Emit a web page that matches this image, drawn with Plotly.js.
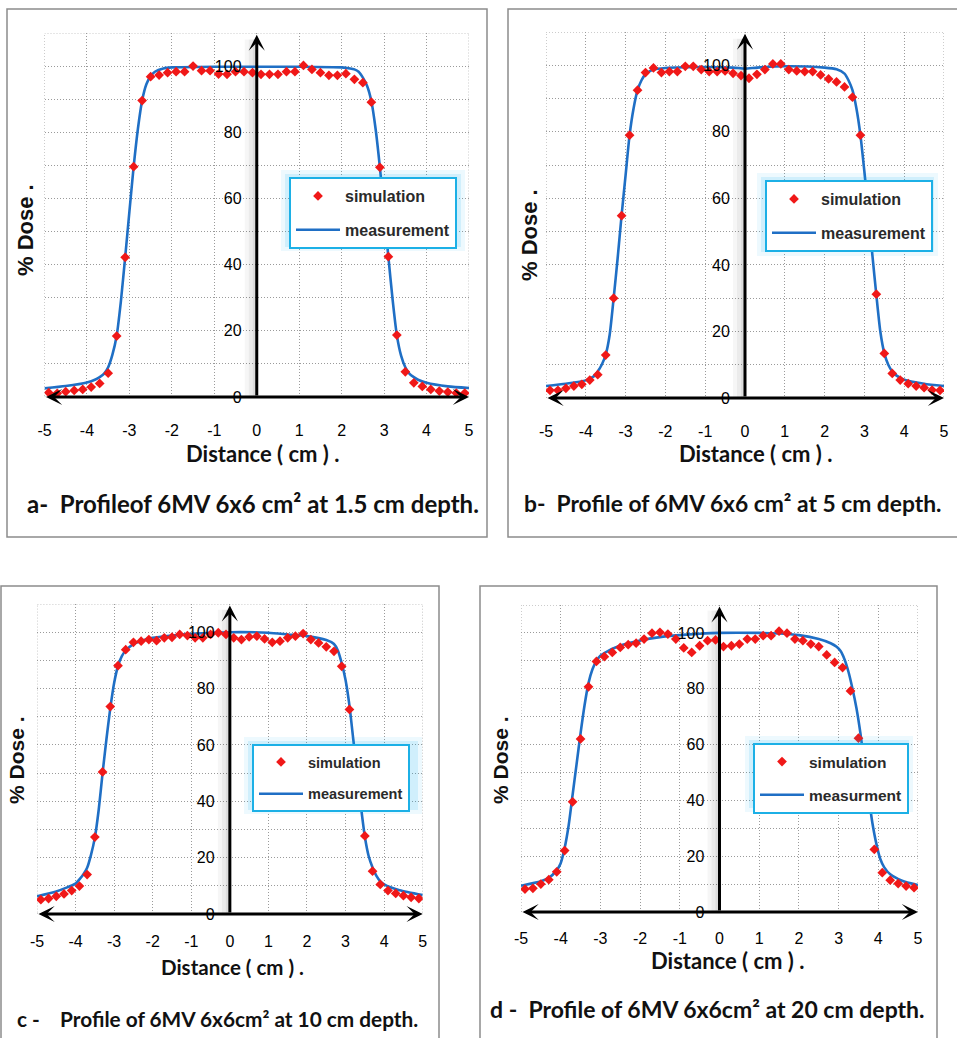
<!DOCTYPE html>
<html><head><meta charset="utf-8">
<script src="https://cdn.plot.ly/plotly-3.0.1.min.js"></script>
<style>html,body{margin:0;padding:0;background:#fff;}#chart{width:957px;height:1038px;}</style>
</head><body><div id="chart"></div>
<script>
// ---------------- data ----------------
const simX = [-4.9,-4.7,-4.5,-4.3,-4.1,-3.9,-3.7,-3.5,-3.3,-3.1,-2.9,-2.7,-2.5,-2.3,-2.1,-1.9,-1.7,-1.5,-1.3,-1.1,-0.9,-0.7,-0.5,-0.3,-0.1,
              0.1,0.3,0.5,0.7,0.9,1.1,1.3,1.5,1.7,1.9,2.1,2.3,2.5,2.7,2.9,3.1,3.3,3.5,3.7,3.9,4.1,4.3,4.5,4.7,4.9];

const simA = [1.3,1.1,1.6,2.0,2.3,3.0,4.1,7.2,18.4,42.2,69.6,89.6,96.8,97.3,98.0,98.3,98.3,100.0,98.6,98.6,97.6,97.5,98.3,98.3,98.0,
              97.5,97.5,97.5,98.3,98.3,100.2,99.0,98.0,97.2,97.2,97.7,96.0,95.0,89.1,69.4,42.4,18.7,7.6,4.3,3.2,2.3,1.8,1.5,1.2,1.2];
const simB = [2.3,2.3,2.9,3.6,4.1,5.4,7.0,12.9,30.0,54.8,79.0,92.5,97.8,99.2,97.8,98.1,98.1,99.7,99.7,98.7,98.1,98.1,98.3,97.6,96.9,
              96.1,97.3,98.7,100.4,100.4,98.7,98.3,98.1,98.1,97.1,95.9,95.0,93.5,90.4,79.0,55.0,31.2,13.4,7.4,5.4,4.3,3.6,3.1,2.4,2.3];
const simC = [5.1,5.5,6.3,7.1,8.3,9.9,14.0,27.3,50.4,73.6,88.1,93.8,96.4,96.8,97.4,97.0,98.0,98.2,99.2,98.8,98.0,98.0,99.2,99.8,99.2,
              98.0,97.4,98.3,98.6,97.6,96.4,96.8,98.0,98.6,99.5,97.4,96.2,94.8,93.2,87.9,72.6,50.0,27.7,15.2,10.5,8.3,7.3,6.5,5.9,5.5];
const simD = [8.2,8.5,10.0,11.6,14.4,22.0,39.5,62.0,80.7,89.8,91.5,93.0,94.8,95.8,96.3,97.8,99.9,100.2,99.6,97.8,94.6,93.0,95.4,97.2,97.5,
              95.1,95.4,96.0,97.8,97.8,99.0,99.0,100.6,99.9,97.8,97.2,96.0,95.1,92.1,89.4,87.6,79.2,62.3,39.5,22.4,14.1,11.4,10.2,9.3,8.7];

const measAX = [-5,-4.5,-4,-3.8,-3.7,-3.6,-3.5,-3.4,-3.3,-3.2,-3.1,-3,-2.9,-2.8,-2.7,-2.6,-2.5,-2.4,-2.2,-2,-1,0,1,2,2.2,2.3,2.4,2.5,2.6,2.7,2.8,2.9,3,3.1,3.2,3.3,3.4,3.5,3.6,3.7,3.8,4,4.5,5];
const measAY = [2.6,3.3,4.4,5.3,6.0,7.0,9.0,12.8,18.5,29,42.2,56,69.6,81,89.6,94.5,97,98.3,99.3,99.6,99.8,99.8,99.8,99.6,99.3,99,98.3,96.5,94,89.4,81,69.5,56,42.4,29.5,18.7,12.5,9,7,6,5.2,4.3,3.2,2.7];

const measBX = [-5,-4.5,-4,-3.8,-3.7,-3.6,-3.5,-3.4,-3.3,-3.2,-3.1,-3,-2.9,-2.8,-2.7,-2.6,-2.5,-2.3,-2,-1,-0.3,0,0.3,1,2,2.3,2.5,2.6,2.7,2.8,2.9,3,3.1,3.2,3.3,3.4,3.5,3.6,3.7,3.8,4,4.5,5];
const measBY = [3.6,4.3,5.3,6.5,8,10,13,19,30,42,55,67,79,87,92.5,95.5,97.3,98.7,99.2,99.5,99.3,99,99.3,99.7,99.3,98.8,97.5,95.5,92.5,87,79,68,56,43,31,20,13.5,10,8,6.8,5.5,4.3,3.6];

const measCX = [-5,-4.5,-4,-3.9,-3.8,-3.7,-3.6,-3.5,-3.4,-3.3,-3.2,-3.1,-3,-2.9,-2.8,-2.7,-2.5,-2.2,-2,-1.5,-1,0,1,1.5,2,2.5,2.7,2.8,2.9,3,3.1,3.2,3.3,3.4,3.5,3.6,3.7,3.8,3.9,4,4.4,5];
const measCY = [6.3,8.0,10.8,12.3,14,16.4,21,27.1,37,50,62,73,82,88,91.5,93.5,95.8,97.3,98,98.8,99.4,100,99.8,99.2,98.6,97.2,95.8,93.5,89,83,74,62,50,38,27.4,20.5,16.5,13.5,11.6,10.5,8.4,6.7];

const measDX = [-5,-4.5,-4.3,-4.1,-4,-3.9,-3.8,-3.7,-3.6,-3.5,-3.4,-3.3,-3.2,-3.1,-3,-2.9,-2.5,-2,-1.5,-1,-0.5,0,1,1.5,2,2.5,2.8,2.95,3.05,3.15,3.25,3.35,3.45,3.55,3.65,3.75,3.85,3.95,4.05,4.15,4.3,4.6,5];
const measDY = [9.4,11,12.2,15,17.5,23,31,42,53,64,74,82,87,90,91.8,92.8,95.5,97.3,98.5,99.2,99.7,100,100,99.8,99.2,97.8,96.3,95,93.5,90.5,86,80,73,64,53,42,32,24.5,19,16,13.5,11.2,9.6];

const xTickVals = [-5,-4,-3,-2,-1,0,1,2,3,4,5];
const xTickText = ['-5','-4','-3','-2','-1','0','1','2','3','4','5'];
const yTickVals = [0,10,20,30,40,50,60,70,80,90,100,110];
const yTickText = ['0','','20','','40','','60','','80','','100',''];

const simNames  = ['simulation','simulation','simulation','simulation'];
const measNames = ['measurement','measurement','measurement','measurment'];
const captions = [
  'a-  Profileof 6MV 6x6 cm\u00b2 at 1.5 cm depth.',
  'b-  Profile of 6MV 6x6 cm\u00b2 at 5 cm depth.',
  'c -    Profile of 6MV 6x6cm\u00b2 at 10 cm depth.',
  'd -  Profile of 6MV 6x6cm\u00b2 at 20 cm depth.'
];
const xTitle = 'Distance ( cm ) .';
const yTitle = '% Dose .';

// ---------------- layout geometry (pixels) ----------------
const W = 957, H = 1038;
const geo = [
  {xl:44.5, xr:469, yb:397, yt:33,  frame:[7,9,487,537],    cap:[253,503],  capSize:24,   xt:[262,453], xtSize:22, yl:[25,230],  ylSize:22, tl:19, leg:[289,177], legSize:[168,64], legFont:16},
  {xl:546,  xr:944, yb:398, yt:32,  frame:[508,9,962,537],  cap:[732,503],  capSize:22.8, xt:[755,453], xtSize:22, yl:[530,235], ylSize:22, tl:19, leg:[765,180], legSize:[165,66], legFont:16},
  {xl:37,   xr:422.7,yb:914,yt:604, frame:[1,586,439,1042], cap:[217,1018], capSize:20.8, xt:[232,967], xtSize:20.5, yl:[16,760],  ylSize:21, tl:13, leg:[252,744], legSize:[162,60], legFont:14.5},
  {xl:521,  xr:918, yb:912, yt:605, frame:[480,586,937,1042],cap:[707,1009], capSize:23,   xt:[727,960], xtSize:22, yl:[500,760], ylSize:21, tl:12, leg:[753,743], legSize:[152,59], legFont:15.5}
];
const simSets  = [simA, simB, simC, simD];
const measSets = [[measAX,measAY],[measBX,measBY],[measCX,measCY],[measDX,measDY]];

const px = x => x / W;
const py = y => 1 - y / H;
const sfx = i => (i === 0 ? '' : String(i + 1));

const traces = [];
const layout = {
  width: W, height: H, margin: {l:0, r:0, t:0, b:0},
  paper_bgcolor: '#ffffff', plot_bgcolor: '#ffffff',
  showlegend: true, annotations: [], shapes: []
};
const tickFont = {family: 'Liberation Sans, Arial, sans-serif', size: 16, color: '#000'};
const gridColor = '#9a9a9a';

geo.forEach((g, i) => {
  const s = sfx(i);
  const xa = 'x' + s, ya = 'y' + s;
  const legId = 'legend' + s;
  const titleFont = sz => ({family: 'Lato, Liberation Sans, sans-serif', size: sz, color: '#111', weight: 700});

  traces.push({
    type: 'scatter', mode: 'lines', x: measSets[i][0], y: measSets[i][1],
    xaxis: xa, yaxis: ya, name: measNames[i], legend: legId, legendgroup: 'm' + i, legendrank: 2,
    line: {color: '#1f6fc5', width: 2.6, shape: 'spline', smoothing: 0.6}, hoverinfo: 'skip'
  });
  traces.push({
    type: 'scatter', mode: 'markers', x: simX, y: simSets[i],
    xaxis: xa, yaxis: ya, name: simNames[i], legend: legId, legendgroup: 's' + i, legendrank: 1,
    marker: {symbol: 'diamond', size: 7.5, color: '#f01818'}, hoverinfo: 'skip'
  });

  layout['xaxis' + s] = {
    domain: [px(g.xl), px(g.xr)], range: [-5, 5], anchor: ya,
    tickmode: 'array', tickvals: xTickVals, ticktext: xTickText,
    ticks: 'outside', ticklen: g.tl, tickcolor: 'rgba(0,0,0,0)', tickfont: tickFont,
    showgrid: true, gridcolor: gridColor, gridwidth: 1, griddash: '1px,2px',
    zeroline: false, showline: false, fixedrange: true
  };
  layout['yaxis' + s] = {
    domain: [py(g.yb), py(g.yt)], range: [0, 110], anchor: 'free',
    position: px((g.xl + g.xr) / 2),
    tickmode: 'array', tickvals: yTickVals, ticktext: yTickText,
    ticks: 'outside', ticklen: 12, tickcolor: 'rgba(0,0,0,0)', tickfont: tickFont,
    showgrid: true, gridcolor: gridColor, gridwidth: 1, griddash: '1px,2px',
    zeroline: false, showline: false, fixedrange: true
  };

  layout[legId] = {
    x: px(g.leg[0]), y: py(g.leg[1]), xanchor: 'left', yanchor: 'top',
    bgcolor: '#ffffff', bordercolor: '#1cb0e6', borderwidth: 2,
    font: {family: 'Liberation Sans, Arial, sans-serif', size: g.legFont, color: '#2a2a2a', weight: 700},
    tracegroupgap: 10, itemwidth: 44, traceorder: 'grouped'
  };

  // panel frame
  layout.shapes.push({type: 'rect', xref: 'paper', yref: 'paper',
    x0: px(g.frame[0]), x1: px(g.frame[2]), y0: py(g.frame[3]), y1: py(g.frame[1]),
    line: {color: '#8c8c8c', width: 1.5}, fillcolor: 'rgba(0,0,0,0)', layer: 'below'});

  // dotted outer border of the grid
  layout.shapes.push({type: 'rect', xref: xa, yref: ya, x0: -5, x1: 5, y0: 0, y1: 110,
    line: {color: gridColor, width: 1, dash: '1px,2px'}, fillcolor: 'rgba(0,0,0,0)', layer: 'between'});

  // legend glow
  const lx = g.leg[0], ly = g.leg[1], lw = g.legSize[0], lh = g.legSize[1];
  [[9, 'rgba(0,176,240,0.07)'], [5, 'rgba(0,176,240,0.12)']].forEach(([d, c]) => {
    layout.shapes.push({type: 'rect', xref: 'paper', yref: 'paper',
      x0: px(lx - d + 1), x1: px(lx + lw + d - 1), y0: py(ly + lh + d + 1), y1: py(ly - d + 2),
      line: {width: 0}, fillcolor: c, layer: 'above'});
  });

  // shadow beside vertical axis
  [[-12, 0.035], [-8, 0.045], [-4, 0.06]].forEach(([w, a]) => {
    layout.shapes.push({type: 'rect', xref: xa, yref: ya, xsizemode: 'pixel', xanchor: 0,
      x0: w, x1: -1, y0: 0, y1: 108, line: {width: 0}, fillcolor: 'rgba(0,0,0,' + a + ')', layer: 'between'});
  });

  // axis arrows
  layout.annotations.push({xref: xa, yref: ya, axref: xa, ayref: ya,
    x: 5, y: 0, ax: -5, ay: 0, text: '', showarrow: true, arrowside: 'end+start',
    arrowhead: 3, startarrowhead: 3, arrowwidth: 3, arrowsize: 0.9, startarrowsize: 0.9,
    arrowcolor: '#000', standoff: 0, startstandoff: 0});
  layout.annotations.push({xref: xa, yref: ya, axref: xa, ayref: ya,
    x: 0, y: 109.5, ax: 0, ay: 0, text: '', showarrow: true,
    arrowhead: 3, arrowwidth: 3, arrowsize: 0.9, arrowcolor: '#000', standoff: 0});

  // titles and caption
  layout.annotations.push({xref: 'paper', yref: 'paper', x: px(g.xt[0]), y: py(g.xt[1]),
    text: xTitle, showarrow: false, xanchor: 'center', yanchor: 'middle', font: titleFont(g.xtSize)});
  layout.annotations.push({xref: 'paper', yref: 'paper', x: px(g.yl[0]), y: py(g.yl[1]),
    text: yTitle, showarrow: false, xanchor: 'center', yanchor: 'middle', textangle: -90,
    font: {family: 'Liberation Sans, Arial, sans-serif', size: g.ylSize, color: '#111', weight: 700}});
  layout.annotations.push({xref: 'paper', yref: 'paper', x: px(g.cap[0]), y: py(g.cap[1]),
    text: captions[i], showarrow: false, xanchor: 'center', yanchor: 'middle', font: titleFont(g.capSize)});
});

Plotly.newPlot('chart', traces, layout, {displayModeBar: false, staticPlot: true});
</script>
</body></html>
